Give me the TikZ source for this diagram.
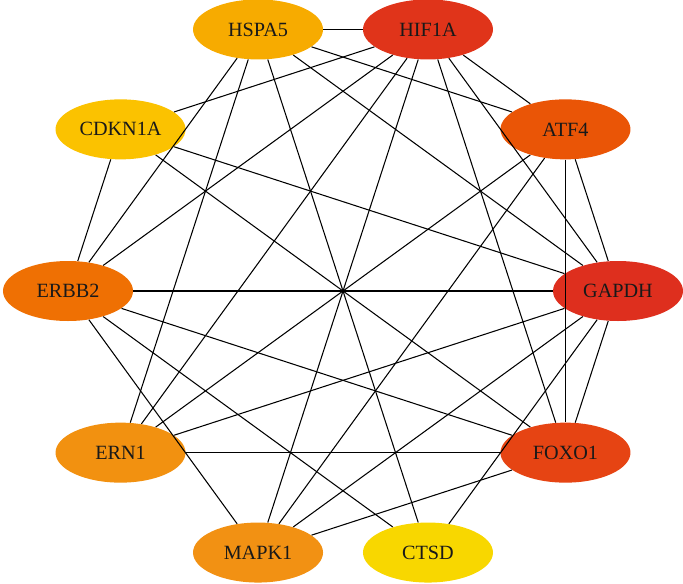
\documentclass[tikz,border=0pt]{standalone}
\usepackage{fontspec}
\setmainfont{Liberation Serif}
\usetikzlibrary{positioning, shapes.geometric}

\definecolor{cHSPA}{HTML}{F7AB00}
\definecolor{cHIF}{HTML}{E0341A}
\definecolor{cCDKN}{HTML}{FBC200}
\definecolor{cATF}{HTML}{EA5506}
\definecolor{cERBB}{HTML}{EF7003}
\definecolor{cGAPDH}{HTML}{DE2F1E}
\definecolor{cERN}{HTML}{F29110}
\definecolor{cFOXO}{HTML}{E64413}
\definecolor{cMAPK}{HTML}{F29113}
\definecolor{cCTSD}{HTML}{F8D700}

\begin{document}
\begin{tikzpicture}[every node/.style={font=\fontsize{11.5}{13}\selectfont}]
            \tikzset{
                gene/.style={
                        ellipse, draw=none, minimum width=2.6cm, minimum height=1.2cm, inner sep=1pt, text=black!90
                    },
                link/.style={
                        line width=0.6pt, black
                    }
            }
            \useasboundingbox (-6.86,-5.84) rectangle (6.80,5.82);

            % Genes on a circle
            \node[gene, fill=cGAPDH] (gapdh) at (0:5.5) {GAPDH};
            \node[gene, fill=cATF] (atf4) at (36:5.5) {ATF4};
            \node[gene, fill=cHIF] (hif1a) at (72:5.5) {HIF1A};
            \node[gene, fill=cHSPA] (hspa5) at (108:5.5) {HSPA5};
            \node[gene, fill=cCDKN] (cdkn1a) at (144:5.5) {CDKN1A};
            \node[gene, fill=cERBB] (erbb2) at (180:5.5) {ERBB2};
            \node[gene, fill=cERN] (ern1) at (216:5.5) {ERN1};
            \node[gene, fill=cMAPK] (mapk1) at (252:5.5) {MAPK1};
            \node[gene, fill=cCTSD] (ctsd) at (288:5.5) {CTSD};
            \node[gene, fill=cFOXO] (foxo1) at (324:5.5) {FOXO1};

            % Interactions
            \draw[link] (gapdh) edge (atf4) edge (hif1a) edge (hspa5) edge (cdkn1a) edge (erbb2)
                edge (ern1) edge (mapk1) edge (ctsd) edge (foxo1);
            \draw[link] (hif1a) edge (hspa5) edge (cdkn1a) edge (erbb2) edge (ern1)
                edge (mapk1) edge (foxo1) edge (atf4);
            \draw[link] (hspa5) edge (atf4) edge (ctsd) edge (ern1) edge (erbb2);
            \draw[link] (cdkn1a) edge (erbb2) edge (foxo1);
            \draw[link] (atf4) edge (foxo1) edge (ern1) edge (mapk1);
            \draw[link] (erbb2) edge (foxo1) edge (ctsd) edge (mapk1);
            \draw[link] (ern1) edge (foxo1);
            \draw[link] (foxo1) edge (mapk1);
        \end{tikzpicture}
\end{document}
